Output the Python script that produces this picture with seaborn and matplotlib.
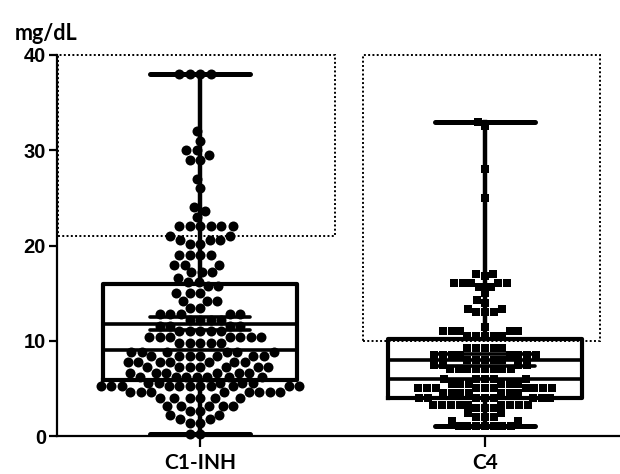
import matplotlib
matplotlib.use("Agg")
import matplotlib.pyplot as plt
from matplotlib.patches import Rectangle
import pandas as pd
import seaborn as sns

categories = ["C1-INH", "C4"]

c1inh_values = [
    38, 38, 38, 38, 32, 31, 30, 30, 29.5, 29, 29, 27, 26, 24, 23.6, 23,
    22, 22, 22, 22, 22, 22, 21, 21, 20.6, 20.6, 20.6, 20.2, 20.2,
    19, 19, 19, 19, 18, 18, 18, 17.2, 17.2, 17.2, 16.6,
    16.2, 16.2,
    15.7, 15.7, 15, 15, 15, 14.2, 14.2, 14.2, 13.4, 13.4,
    12.8, 12.8, 12.8, 12.8, 12.8, 12.2, 12.2, 12.2, 12.2,
    11.6, 11.6, 11.6, 11.6, 11, 11, 11, 11, 11,
    10.4, 10.4, 10.4, 10.4, 10.4, 10.4, 10.4, 9.8, 9.8, 9.8, 9.8, 9.8,
    8.8, 8.8, 8.8, 8.8, 8.8, 8.8, 8.4, 8.4, 8.4, 8.4, 8.4, 8.4, 8.4,
    7.8, 7.8, 7.8, 7.8, 7.8, 7.8, 7.8, 7.2, 7.2, 7.2, 7.2, 7.2, 7.2, 7.2,
    6.6, 6.6, 6.6, 6.6, 6.6, 6.6, 6.2, 6.2, 6.2, 6.2, 6.2, 6.2, 6.2,
    5.6, 5.6, 5.6, 5.6, 5.6,
    5.2, 5.2, 5.2, 5.2, 5.2, 5.2, 5.2, 5.2, 5.2, 5.2, 5.2,
    4.6, 4.6, 4.6, 4.6, 4.6, 4.6, 4.6, 4.6, 4.0, 4.0, 4.0, 4.0, 4.0, 4.0,
    3.2, 3.2, 3.2, 3.2, 3.2, 2.6, 2.6, 2.2, 2.2, 1.8, 1.8, 1.4, 1.4, 0.2, 0.2,
]

c4_values = [
    33, 32.5, 28, 25, 17, 17, 16.8, 16.1, 16.1, 16.1, 16.1, 16.1, 15.6, 15.6,
    15, 14.3, 14, 13.3, 13.3, 13, 13, 13, 11.4, 11, 11, 11, 11, 11,
    10.5, 10.5, 10.5, 10.5, 10.5,
    9.2, 9.2, 9.2, 9.2, 9.2, 8.5, 8.5, 8.5, 8.5, 8.5, 8.5, 8.5, 8.5,
    8, 8, 8, 8, 8, 7.5, 7.5, 7.5, 7.5, 7, 7, 7, 7, 7, 7, 7, 7,
    6, 6, 6, 6, 6, 5.5, 5.5, 5.5, 5.5, 5.5, 5.5,
    5, 5, 5, 5, 5, 5, 5, 5, 5, 5, 4.5, 4.5, 4.5, 4.5, 4.5, 4.5, 4.5,
    4, 4, 4, 4, 4, 4, 4, 4, 3.3, 3.3, 3.3, 3.3, 3.3, 3.3, 3.3, 3.3, 3.3,
    2.9, 2.9, 2.9, 2.4, 2.4, 2, 2, 2, 1.6, 1.6, 1.05, 1.05, 1.05, 1.05, 1.05, 1.05, 1.05,
]

# box-and-whisker summary (min to max whiskers)
box_min = [0.2, 1.05]
box_q1 = [5.9, 4.0]
box_median = [9.0, 6.0]
box_q3 = [16.0, 10.2]
box_max = [38.0, 33.0]
mean_values = [11.8, 8.0]
sem_low = [11.1, 7.3]
sem_high = [12.5, 8.6]

# dotted reference ranges
ref_low = [21, 10]
ref_high = [40, 40]

ylim = (0, 40)
yticks = [0, 10, 20, 30, 40]

df = pd.DataFrame({
    "group": ["C1-INH"] * len(c1inh_values) + ["C4"] * len(c4_values),
    "value": c1inh_values + c4_values,
})

fig = plt.figure(figsize=(6.2, 4.74), dpi=100)
ax = fig.add_axes([57 / 620, 1 - 436 / 474, 1 - 57 / 620, (436 - 55) / 474])

sns.swarmplot(data=df[df.group == "C1-INH"], x="group", y="value", order=categories,
              marker="o", size=7.2, color="black", linewidth=0, ax=ax, zorder=2,
              clip_on=False)
sns.swarmplot(data=df[df.group == "C4"], x="group", y="value", order=categories,
              marker="s", size=6, color="black", linewidth=0, ax=ax, zorder=2,
              clip_on=False)

stats = []
for i, name in enumerate(categories):
    stats.append(dict(label=name, whislo=box_min[i], q1=box_q1[i], med=box_median[i],
                      q3=box_q3[i], whishi=box_max[i]))
ax.bxp(stats, positions=[0, 1], widths=0.68, capwidths=0.35, showfliers=False,
       manage_ticks=False, zorder=3,
       boxprops=dict(color="black", linewidth=3.0, solid_joinstyle="round"),
       whiskerprops=dict(color="black", linewidth=3.2),
       capprops=dict(color="black", linewidth=3.6, solid_capstyle="round"),
       medianprops=dict(color="black", linewidth=2.6))

for i in range(len(categories)):
    ax.hlines(mean_values[i], i - 0.34, i + 0.34, color="black", lw=2.6, zorder=3)
    ax.hlines([sem_low[i], sem_high[i]], i - 0.175, i + 0.175, color="black",
              lw=2.6, zorder=3, capstyle="round")

ref_x = [(-0.5, 0.474), (0.572, 1.404)]
for i in range(len(categories)):
    x0, x1 = ref_x[i]
    ax.add_patch(Rectangle((x0, ref_low[i]), x1 - x0, ref_high[i] - ref_low[i],
                           fill=False, edgecolor="black", linewidth=1.4,
                           linestyle=(0, (1, 1.2)), zorder=1, clip_on=False))

ax.set_xlim(-0.502, 1.474)
ax.set_ylim(*ylim)
ax.set_yticks(yticks)
ax.set_xticks([0, 1])
ax.set_xticklabels(categories)
ax.set_xlabel("")
ax.set_ylabel("")

for s in ["top", "right"]:
    ax.spines[s].set_visible(False)
for s in ["left", "bottom"]:
    ax.spines[s].set_linewidth(1.6)
    ax.spines[s].set_color("black")

ax.tick_params(axis="y", length=6, width=1.6, pad=2, labelsize=14.5)
ax.tick_params(axis="x", length=8, width=1.6, pad=4)
for lab in ax.get_yticklabels():
    lab.set_fontfamily(["Liberation Sans", "DejaVu Sans"])
    lab.set_fontweight("bold")
for lab in ax.get_xticklabels():
    lab.set_fontfamily(["Lato", "DejaVu Sans"])
    lab.set_fontweight("bold")
    lab.set_fontsize(15)

fig.text(15 / 620, 1 - 33 / 474, "mg/dL", ha="left", va="center", fontsize=15.5,
         fontweight="bold", family=["Lato", "DejaVu Sans"])

fig.savefig("out.png", dpi=100, facecolor="white")
